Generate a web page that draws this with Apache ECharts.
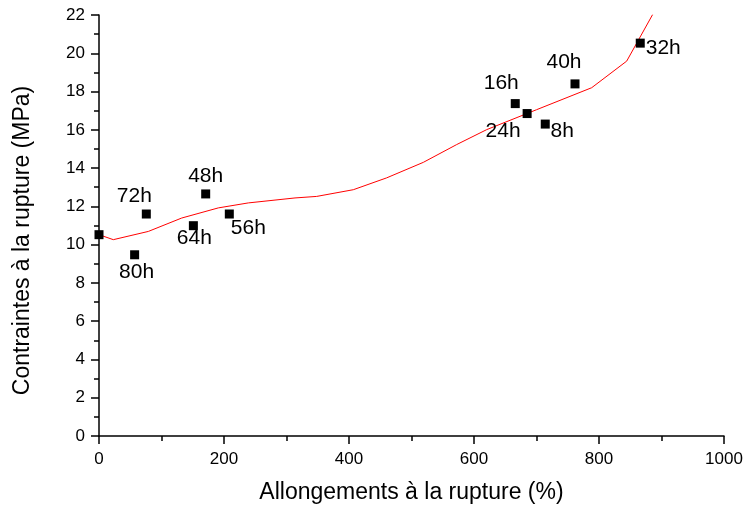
<!DOCTYPE html>
<html>
<head>
<meta charset="utf-8">
<script src="https://cdn.jsdelivr.net/npm/echarts@6/dist/echarts.min.js"></script>
<style>html,body{margin:0;padding:0;background:#fff}#c{width:746px;height:510px}</style>
</head>
<body>
<div id="c"></div>
<script>
var pointX = [0, 57, 75.7, 151, 170.7, 208.5, 666, 685, 714, 761.6, 866];
var pointY = [10.52, 9.47, 11.6, 10.99, 12.65, 11.6, 17.37, 16.85, 16.3, 18.4, 20.53];
var pointLabels = ['', '80h', '72h', '64h', '48h', '56h', '16h', '24h', '8h', '40h', '32h'];
var labelOffsets = [[0,0], [2,17], [-12,-18], [1,13], [0,-18], [19,14], [-14,-20], [-24,18], [17,7], [-11,-22], [23,5]];
var curveX = [0, 22.9, 78.9, 132.3, 190.9, 238.9, 313.6, 348.3, 406.9, 460.3, 518.9, 572.3, 620.3, 700, 788.3, 844.3, 885.9];
var curveY = [10.52, 10.26, 10.69, 11.39, 11.92, 12.18, 12.44, 12.52, 12.87, 13.49, 14.30, 15.23, 16.01, 17.05, 18.2, 19.59, 22.03];
var xTicks = [0, 200, 400, 600, 800, 1000];
var yTicks = [0, 2, 4, 6, 8, 10, 12, 14, 16, 18, 20, 22];

var font = 'Liberation Sans, Arial, sans-serif';
var chart = echarts.init(document.getElementById('c'), null, {renderer: 'canvas'});
var scatterData = pointX.map(function (x, i) {
  return {
    value: [x, pointY[i]],
    label: {show: pointLabels[i] !== '', formatter: pointLabels[i], offset: labelOffsets[i]}
  };
});
var lineData = curveX.map(function (x, i) { return [x, curveY[i]]; });
var axisCommon = {
  axisLine: {show: true, lineStyle: {color: '#000', width: 1.5}},
  axisTick: {show: true, inside: false, length: 8, lineStyle: {color: '#000', width: 1.5}},
  minorTick: {show: true, splitNumber: 2, length: 5, lineStyle: {color: '#000', width: 1.5}},
  splitLine: {show: false},
  nameLocation: 'middle',
  nameTextStyle: {color: '#000', fontSize: 23, fontFamily: font}
};
function plain(v) { return String(v); }
chart.setOption({
  animation: false,
  grid: {left: 99, right: 22, top: 15, bottom: 74, containLabel: false},
  xAxis: Object.assign({}, axisCommon, {
    type: 'value', min: xTicks[0], max: xTicks[xTicks.length - 1], interval: 200,
    axisLabel: {color: '#000', fontSize: 17, fontFamily: font, margin: 15, formatter: plain},
    name: 'Allongements à la rupture (%)', nameGap: 45
  }),
  yAxis: Object.assign({}, axisCommon, {
    type: 'value', min: yTicks[0], max: yTicks[yTicks.length - 1], interval: 2,
    axisLabel: {color: '#000', fontSize: 17, fontFamily: font, margin: 14, formatter: plain},
    name: 'Contraintes à la rupture (MPa)', nameGap: 65,
    nameTextStyle: {color: '#000', fontSize: 23, fontFamily: font, padding: [0, 30, 0, 0]}
  }),
  series: [
    {
      type: 'line', data: lineData, showSymbol: false, smooth: false,
      lineStyle: {color: '#ff0000', width: 1}, z: 2
    },
    {
      type: 'scatter', data: scatterData, symbol: 'rect', symbolSize: 9,
      itemStyle: {color: '#000', opacity: 1}, z: 3,
      label: {position: 'inside', color: '#000', fontSize: 21, fontFamily: font, align: 'center', verticalAlign: 'middle'}
    }
  ]
});
</script>
</body>
</html>
